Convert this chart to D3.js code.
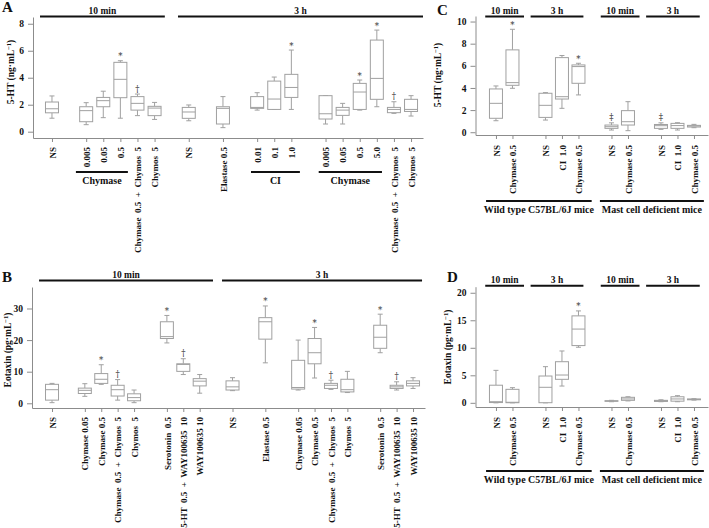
<!DOCTYPE html>
<html><head><meta charset="utf-8">
<script src="https://cdn.jsdelivr.net/npm/d3@7/dist/d3.min.js"></script>
<style>
body{margin:0;background:#fff}
svg text{font-family:"Liberation Serif","Times New Roman",serif;font-weight:bold;fill:#111}
svg text.mark{font-family:"DejaVu Serif",serif;font-weight:normal}
</style></head><body>
<svg id="chart" width="709" height="528"></svg>
<script>
// ---------- Panel A : 5-HT (ng/mL) ----------
const aLabels = ["NS","0.005","0.05","0.5","Chymase  0.5  +  Chymos  5","Chymos  5","NS","Elastase 0.5","0.01","0.1","1.0","0.005","0.05","0.5","5.0","Chymase  0.5  +  Chymos  5","Chymos  5"];
const aSlots  = [0,2,3,4,5,6,8,10,12,13,14,16,17,18,19,20,21];
const aMin = [1.0,0.52,1.04,1.0,1.19,0.91,0.81,0.3,1.6,1.65,1.65,0.57,0.57,1.6,1.85,1.36,1.16];
const aQ1  = [1.4,0.74,1.85,2.52,1.6,1.19,0.99,0.57,1.73,1.65,2.54,0.94,1.21,1.65,2.4,1.41,1.5];
const aMed = [1.7,1.56,2.3,3.88,2.1,1.75,1.46,1.73,1.8,2.42,3.28,1.33,1.6,2.94,3.95,1.65,1.65];
const aQ3  = [2.2,1.85,2.54,5.14,2.6,1.88,1.8,1.85,2.6,3.75,4.25,2.67,1.8,3.58,6.79,1.8,2.4];
const aMax = [2.65,2.15,3.0,5.26,2.79,2.17,1.98,2.6,2.89,4.05,6.05,2.67,2.1,3.83,7.53,2.22,2.67];
const aMarks = ["","","","*","†","","","","","","*","","","*","*","†",""];
const aYTicks = [0,2,4,6,8];
const aTopGroups = [["10 min",-0.7,6.6],["3 h",7.37,21.7]];
const aSubGroups = [["Chymase",1.4,4.44],["CI",11.64,14.5],["Chymase",15.6,19.3]];

// ---------- Panel B : Eotaxin (pg/mL) ----------
const bLabels = ["NS","Chymase 0.05","Chymase 0.5","Chymase  0.5  +  Chymos  5","Chymos  5","Serotonin  0.5","5-HT  0.5  +  WAY100635  10","WAY100635 10",
                 "NS","Elastase 0.5","Chymase 0.05","Chymase 0.5","Chymase  0.5  +  Chymos  5","Chymos  5","Serotonin  0.5","5-HT  0.5  +  WAY100635  10","WAY100635 10"];
const bSlots = [0,2,3,4,5,7,8,9,11,13,15,16,17,18,20,21,22];
const bMin = [0.2,2.2,6.0,1.0,0.2,19.1,9.1,3.2,4.0,12.8,4.2,8.0,4.4,3.4,16.0,4.2,4.7];
const bQ1  = [1.0,3.1,6.3,2.3,0.8,20.5,10.1,5.5,4.2,20.3,4.5,12.5,4.7,3.6,17.4,4.7,5.5];
const bMed = [4.3,4.1,7.6,4.3,1.8,21.1,12.3,7.0,5.2,25.8,5.0,16.0,5.7,4.3,20.9,5.2,6.3];
const bQ3  = [6.0,4.8,9.4,5.7,3.0,25.8,12.5,7.8,7.1,27.1,13.6,20.5,6.3,7.6,24.7,5.7,7.1];
const bMax = [6.3,6.2,12.2,7.5,4.2,27.8,14.1,9.1,8.1,30.8,20.0,24.0,7.3,10.1,28.2,6.8,8.1];
const bMarks = ["","","*","†","","*","†","","","*","","*","†","","*","†",""];
const bYTicks = [0,10,20,30];
const bTopGroups = [["10 min",-0.79,9.81],["3 h",10.36,22.55]];

// ---------- Panel C : 5-HT (ng/mL), mice ----------
const cLabels = ["NS","Chymase 0.5","NS","CI  1.0","Chymase 0.5","NS","Chymase 0.5","NS","CI  1.0","Chymase 0.5"];
const cSlots = [0,1,3,4,5,7,8,10,11,12];
const cMin = [1.04,3.97,1.1,2.16,3.37,0.2,0.14,0.26,0.2,0.41];
const cQ1  = [1.26,4.24,1.34,3.0,4.42,0.35,0.65,0.35,0.35,0.47];
const cMed = [2.61,4.48,2.43,3.21,5.93,0.5,0.95,0.59,0.6,0.56];
const cQ3  = [3.91,7.44,3.52,6.74,6.08,0.65,1.95,0.7,0.8,0.62];
const cMax = [4.18,9.3,3.58,6.93,6.23,0.85,2.76,0.85,0.86,0.71];
const cMarks = ["","*","","","*","‡","","‡","",""];
const cYTicks = [0,2,4,6,8,10];

// ---------- Panel D : Eotaxin (pg/mL), mice ----------
const dLabels = cLabels;
const dSlots = cSlots;
const dMin = [0,0,0,3.05,10.1,0.2,0.35,0.2,0.2,0.5];
const dQ1  = [0.05,0.02,0.02,4.27,10.4,0.28,0.45,0.25,0.3,0.55];
const dMed = [0.2,0.1,2.82,5.05,13.4,0.33,0.7,0.35,0.7,0.62];
const dQ3  = [3.2,2.45,4.87,7.47,15.8,0.38,1.0,0.45,1.1,0.7];
const dMax = [5.9,2.75,6.57,9.42,16.7,0.45,1.1,0.55,1.3,0.75];
const dMarks = ["","","","","*","","","","",""];
const dYTicks = [0,5,10,15,20];
const cdTopGroups = [["10 min",-0.65,1.7],["3 h",2.1,5.3],["10 min",6.35,8.7],["3 h",9.1,12.35]];
const cdBottomGroups = [["Wild type C57BL/6J mice",-0.6,5.8],["Mast cell deficient mice",6.3,12.6]];

// ---------- drawing ----------
const svg = d3.select("#chart");
const axisColor = "#8c8c8c", boxColor = "#a0a0a0", ink = "#111";

function drawPanel(p) {
  const g = svg.append("g");
  const x = d3.scaleLinear().domain(p.xd).range(p.xr);
  const y = d3.scaleLinear().domain(p.yd).range(p.yr);

  // y axis
  const ya = g.append("g").attr("transform", `translate(${p.xr[0]},0)`)
    .call(d3.axisLeft(y).tickValues(p.yTicks).tickSize(5).tickSizeOuter(0).tickPadding(4).tickFormat(d3.format("d")));
  ya.select(".domain").attr("stroke", axisColor);
  ya.selectAll(".tick line").attr("stroke", axisColor);
  ya.selectAll(".tick text").attr("font-size", 9.5).attr("font-family", null).style("fill", ink);

  // x axis
  const xa = g.append("g").attr("transform", `translate(0,${p.yr[0]})`)
    .call(d3.axisBottom(x).tickValues(p.slots).tickSize(4).tickSizeOuter(0).tickFormat((d, i) => p.labels[i]));
  xa.select(".domain").attr("stroke", axisColor);
  xa.selectAll(".tick line").attr("stroke", axisColor);
  xa.selectAll(".tick text")
    .attr("font-size", 9).attr("font-family", null)
    .attr("transform", "rotate(-90)")
    .attr("x", -p.labelGap).attr("y", 0).attr("dy", "0.35em")
    .style("text-anchor", "end").style("white-space", "pre").style("fill", ink);

  // boxes
  const bw = 13, cw = 5;
  const data = p.slots.map((s, i) => ({s, mn: p.min[i], q1: p.q1[i], md: p.med[i], q3: p.q3[i], mx: p.max[i], mk: p.marks[i]}));
  const bg = g.selectAll("g.box").data(data).join("g").attr("class", "box")
    .attr("fill", "none").attr("stroke", boxColor).attr("stroke-width", 1);
  bg.append("line").attr("x1", d => x(d.s)).attr("x2", d => x(d.s)).attr("y1", d => y(d.mx)).attr("y2", d => y(d.q3));
  bg.append("line").attr("x1", d => x(d.s)).attr("x2", d => x(d.s)).attr("y1", d => y(d.q1)).attr("y2", d => y(d.mn));
  bg.append("line").attr("x1", d => x(d.s) - cw/2).attr("x2", d => x(d.s) + cw/2).attr("y1", d => y(d.mx)).attr("y2", d => y(d.mx));
  bg.append("line").attr("x1", d => x(d.s) - cw/2).attr("x2", d => x(d.s) + cw/2).attr("y1", d => y(d.mn)).attr("y2", d => y(d.mn));
  bg.append("rect").attr("x", d => x(d.s) - bw/2).attr("width", bw)
    .attr("y", d => y(d.q3)).attr("height", d => Math.max(0.5, y(d.q1) - y(d.q3))).attr("fill", "#fff");
  bg.append("line").attr("x1", d => x(d.s) - bw/2).attr("x2", d => x(d.s) + bw/2).attr("y1", d => y(d.md)).attr("y2", d => y(d.md));
  g.selectAll("text.mark").data(data.filter(d => d.mk)).join("text").attr("class", "mark")
    .attr("x", d => x(d.s)).attr("y", d => y(d.mx) - (d.mk === "*" ? 1.5 : 2.5))
    .attr("text-anchor", "middle").attr("font-size", 8.5).style("fill", "#333").text(d => d.mk);

  // top groups
  p.top.forEach(([t, a, b]) => {
    g.append("line").attr("x1", x(a)).attr("x2", x(b)).attr("y1", p.topY).attr("y2", p.topY).attr("stroke", ink).attr("stroke-width", 2);
    g.append("text").attr("x", (x(a) + x(b)) / 2).attr("y", p.topY - 3).attr("text-anchor", "middle").attr("font-size", 9.5).text(t);
  });
  (p.sub || []).forEach(([t, a, b]) => {
    g.append("line").attr("x1", x(a)).attr("x2", x(b)).attr("y1", p.subY).attr("y2", p.subY).attr("stroke", ink).attr("stroke-width", 2);
    g.append("text").attr("x", (x(a) + x(b)) / 2).attr("y", p.subY + 12).attr("text-anchor", "middle").attr("font-size", 10).text(t);
  });

  // y label
  const yl = g.append("text").attr("transform", `translate(${p.ylx},${p.yly}) rotate(-90)`)
    .attr("text-anchor", "middle").attr("font-size", 9.5);
  yl.append("tspan").text(p.ylabel + " (" + p.unit + "·mL");
  yl.append("tspan").attr("dy", -3.5).attr("font-size", 6.5).text("−1");
  yl.append("tspan").attr("dy", 3.5).text(")");

  // panel letter
  g.append("text").attr("x", p.lx).attr("y", p.ly).attr("font-size", 15).text(p.letter);
}

drawPanel({letter: "A", lx: 2, ly: 12, labels: aLabels, slots: aSlots, min: aMin, q1: aQ1, med: aMed, q3: aQ3, max: aMax, marks: aMarks,
  xd: [-1.11, 21.7], xr: [33, 423], yd: [-0.467, 8.5], yr: [138, 17], yTicks: aYTicks, labelGap: 9,
  top: aTopGroups, topY: 16.5, sub: aSubGroups, subY: 172, ylabel: "5-HT", unit: "ng", ylx: 14, yly: 72});
drawPanel({letter: "B", lx: 2, ly: 282, labels: bLabels, slots: bSlots, min: bMin, q1: bQ1, med: bMed, q3: bQ3, max: bMax, marks: bMarks,
  xd: [-1.22, 22.73], xr: [32, 425], yd: [-1.49, 36.8], yr: [408, 287], yTicks: bYTicks, labelGap: 9,
  top: bTopGroups, topY: 280.5, ylabel: "Eotaxin", unit: "pg", ylx: 11, yly: 350});
drawPanel({letter: "C", lx: 437, ly: 15, labels: cLabels, slots: cSlots, min: cMin, q1: cQ1, med: cMed, q3: cQ3, max: cMax, marks: cMarks,
  xd: [-1.24, 12.85], xr: [475.5, 708], yd: [-0.25, 10.5], yr: [135, 16], yTicks: cYTicks, labelGap: 10,
  top: cdTopGroups, topY: 16.5, sub: cdBottomGroups, subY: 201, ylabel: "5-HT", unit: "ng", ylx: 441, yly: 75});
drawPanel({letter: "D", lx: 447, ly: 282, labels: dLabels, slots: dSlots, min: dMin, q1: dQ1, med: dMed, q3: dQ3, max: dMax, marks: dMarks,
  xd: [-1.24, 12.85], xr: [475.5, 708], yd: [-0.76, 21.1], yr: [407, 286.7], yTicks: dYTicks, labelGap: 10,
  top: cdTopGroups, topY: 285.7, sub: cdBottomGroups, subY: 471, ylabel: "Eotaxin", unit: "pg", ylx: 451, yly: 347});
</script></body></html>
